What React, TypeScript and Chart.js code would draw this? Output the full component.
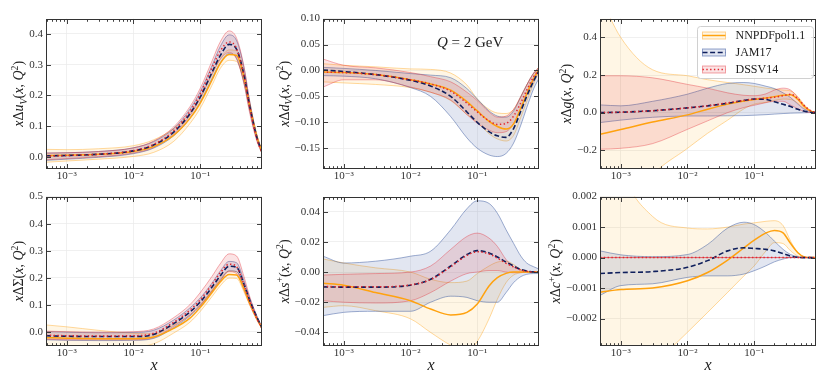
import React, { useEffect, useRef } from 'react';
import { Chart, registerables } from 'chart.js';
Chart.register(...registerables);

const SERIF = '"Liberation Serif", "DejaVu Serif", serif';

// ---------- shared x grid & axis ----------
const xGrid = [4.9e-4, 1e-3, 3e-3, 1e-2, 2e-2, 4e-2, 7e-2, 0.1, 0.15, 0.2, 0.27, 0.35, 0.45, 0.55, 0.7, 0.84];
const xMin = 4.9e-4;
const xMax = 0.84;
const xMajorTicks = [1e-3, 1e-2, 1e-1];
const xMajorLabels = ['10\u207B\u00B3', '10\u207B\u00B2', '10\u207B\u00B9'];

// ---------- x Δu_V ----------
const uvNNPDF = [0.004, 0.005, 0.008, 0.017, 0.033, 0.07, 0.125, 0.175, 0.25, 0.305, 0.333, 0.33, 0.26, 0.165, 0.067, 0.015];
const uvNNPDFlo = [-0.018, -0.014, -0.008, 0.001, 0.014, 0.05, 0.108, 0.158, 0.233, 0.288, 0.314, 0.31, 0.244, 0.154, 0.058, 0.01];
const uvNNPDFhi = [0.024, 0.023, 0.026, 0.036, 0.055, 0.092, 0.142, 0.192, 0.267, 0.32, 0.348, 0.345, 0.273, 0.176, 0.075, 0.02];
const uvJAM = [0.003, 0.004, 0.008, 0.019, 0.038, 0.08, 0.14, 0.195, 0.275, 0.33, 0.366, 0.35, 0.268, 0.165, 0.065, 0.015];
const uvJAMlo = [-0.012, -0.008, -0.002, 0.01, 0.028, 0.068, 0.125, 0.178, 0.255, 0.306, 0.336, 0.32, 0.242, 0.15, 0.057, 0.012];
const uvJAMhi = [0.012, 0.013, 0.017, 0.029, 0.049, 0.092, 0.155, 0.212, 0.297, 0.36, 0.397, 0.378, 0.292, 0.18, 0.072, 0.018];
const uvDSSV = [0.002, 0.004, 0.008, 0.02, 0.04, 0.085, 0.148, 0.205, 0.29, 0.345, 0.374, 0.352, 0.265, 0.16, 0.06, 0.012];
const uvDSSVlo = [-0.01, -0.006, 0.0, 0.012, 0.03, 0.074, 0.134, 0.19, 0.27, 0.318, 0.34, 0.318, 0.238, 0.142, 0.052, 0.01];
const uvDSSVhi = [0.012, 0.013, 0.017, 0.029, 0.051, 0.097, 0.163, 0.223, 0.312, 0.375, 0.41, 0.386, 0.295, 0.18, 0.068, 0.015];
const uvTicks = [0, 0.1, 0.2, 0.3, 0.4];
const uvTickLabels = ['0.0', '0.1', '0.2', '0.3', '0.4'];

// ---------- x Δd_V ----------
const dvNNPDF = [-0.003, -0.004, -0.008, -0.018, -0.026, -0.038, -0.06, -0.078, -0.098, -0.108, -0.113, -0.103, -0.072, -0.045, -0.015, 0.002];
const dvNNPDFlo = [-0.022, -0.024, -0.027, -0.033, -0.042, -0.058, -0.085, -0.1, -0.122, -0.132, -0.136, -0.125, -0.09, -0.06, -0.025, -0.003];
const dvNNPDFhi = [0.013, 0.01, 0.007, 0.003, 0.002, -0.005, -0.028, -0.055, -0.075, -0.082, -0.083, -0.075, -0.05, -0.028, -0.005, 0.006];
const dvJAM = [0.001, -0.002, -0.008, -0.019, -0.03, -0.05, -0.08, -0.1, -0.118, -0.126, -0.129, -0.112, -0.078, -0.05, -0.02, -0.001];
const dvJAMlo = [-0.01, -0.011, -0.016, -0.033, -0.05, -0.089, -0.13, -0.15, -0.163, -0.166, -0.16, -0.14, -0.105, -0.072, -0.035, -0.015];
const dvJAMhi = [0.006, 0.004, 0.0, -0.006, -0.009, -0.014, -0.035, -0.055, -0.078, -0.088, -0.09, -0.078, -0.05, -0.028, -0.005, 0.005];
const dvDSSV = [-0.003, -0.004, -0.008, -0.018, -0.026, -0.04, -0.063, -0.08, -0.097, -0.104, -0.102, -0.088, -0.062, -0.038, -0.012, 0.002];
const dvDSSVlo = [-0.032, -0.018, -0.018, -0.032, -0.042, -0.057, -0.085, -0.102, -0.115, -0.12, -0.118, -0.103, -0.075, -0.048, -0.02, -0.001];
const dvDSSVhi = [0.022, 0.01, 0.005, -0.004, -0.012, -0.022, -0.042, -0.058, -0.08, -0.09, -0.088, -0.075, -0.05, -0.028, -0.005, 0.006];
const dvTicks = [-0.15, -0.1, -0.05, 0, 0.05, 0.1];
const dvTickLabels = ['\u22120.15', '\u22120.10', '\u22120.05', '0.00', '0.05', '0.10'];

// ---------- x Δg ----------
const gNNPDF = [-0.115, -0.09, -0.05, -0.012, 0.018, 0.045, 0.062, 0.07, 0.078, 0.085, 0.092, 0.095, 0.07, 0.035, 0.008, 0.0];
const gNNPDFlo = [-0.75, -0.55, -0.33, -0.19, -0.11, -0.04, 0.02, 0.045, 0.055, 0.065, 0.072, 0.07, 0.05, 0.025, 0.005, 0.0];
const gNNPDFhi = [0.62, 0.4, 0.228, 0.196, 0.175, 0.16, 0.148, 0.14, 0.13, 0.125, 0.12, 0.115, 0.085, 0.045, 0.01, 0.0];
const gJAM = [0.0, 0.002, 0.01, 0.025, 0.036, 0.05, 0.065, 0.072, 0.07, 0.058, 0.044, 0.032, 0.018, 0.009, 0.002, 0.0];
const gJAMlo = [-0.053, -0.04, -0.025, -0.018, -0.018, -0.017, -0.016, -0.014, -0.011, -0.008, -0.005, -0.003, -0.002, -0.001, 0.0, 0.0];
const gJAMhi = [0.041, 0.036, 0.06, 0.098, 0.13, 0.155, 0.16, 0.155, 0.14, 0.128, 0.105, 0.08, 0.045, 0.02, 0.004, 0.0];
const gDSSV = [0.0, 0.002, 0.01, 0.025, 0.036, 0.052, 0.065, 0.072, 0.077, 0.082, 0.09, 0.097, 0.075, 0.04, 0.01, 0.0];
const gDSSVlo = [-0.195, -0.19, -0.165, -0.089, -0.044, 0.0, 0.027, 0.039, 0.053, 0.06, 0.06, 0.04, 0.02, 0.006, 0.0, 0.0];
const gDSSVhi = [0.196, 0.196, 0.185, 0.15, 0.13, 0.105, 0.092, 0.09, 0.1, 0.12, 0.13, 0.12, 0.08, 0.04, 0.01, 0.0];
const gTicks = [-0.2, 0, 0.2, 0.4];
const gTickLabels = ['\u22120.2', '0.0', '0.2', '0.4'];

// ---------- x ΔΣ ----------
const sgNNPDF = [-0.022, -0.024, -0.026, -0.026, -0.02, 0.012, 0.05, 0.09, 0.145, 0.185, 0.212, 0.21, 0.16, 0.105, 0.05, 0.013];
const sgNNPDFlo = [-0.065, -0.065, -0.062, -0.056, -0.045, -0.005, 0.035, 0.075, 0.13, 0.17, 0.198, 0.197, 0.148, 0.098, 0.044, 0.01];
const sgNNPDFhi = [0.025, 0.018, 0.005, -0.006, -0.008, 0.025, 0.062, 0.1, 0.155, 0.197, 0.225, 0.222, 0.17, 0.112, 0.055, 0.016];
const sgJAM = [-0.015, -0.017, -0.018, -0.018, -0.01, 0.03, 0.073, 0.11, 0.165, 0.207, 0.242, 0.238, 0.177, 0.116, 0.055, 0.015];
const sgJAMlo = [-0.03, -0.032, -0.033, -0.032, -0.025, 0.015, 0.058, 0.095, 0.15, 0.19, 0.225, 0.222, 0.165, 0.107, 0.05, 0.012];
const sgJAMhi = [0.0, -0.002, -0.004, -0.003, 0.005, 0.043, 0.088, 0.125, 0.18, 0.225, 0.26, 0.255, 0.19, 0.125, 0.06, 0.018];
const sgDSSV = [-0.013, -0.015, -0.016, -0.015, -0.006, 0.035, 0.08, 0.118, 0.175, 0.218, 0.25, 0.24, 0.175, 0.112, 0.05, 0.012];
const sgDSSVlo = [-0.028, -0.03, -0.03, -0.03, -0.022, 0.02, 0.062, 0.098, 0.15, 0.19, 0.222, 0.215, 0.155, 0.1, 0.045, 0.01];
const sgDSSVhi = [0.002, 0.0, -0.002, 0.0, 0.01, 0.052, 0.1, 0.145, 0.205, 0.252, 0.288, 0.28, 0.205, 0.13, 0.058, 0.015];
const sgTicks = [0, 0.1, 0.2, 0.3, 0.4, 0.5];
const sgTickLabels = ['0.0', '0.1', '0.2', '0.3', '0.4', '0.5'];

// ---------- x Δs+ ----------
const spNNPDF = [-0.0074, -0.0087, -0.0136, -0.019, -0.0245, -0.0284, -0.0267, -0.0212, -0.0092, -0.0037, -0.0009, 0.0, 0.0, 0.0, 0.0, 0.0];
const spNNPDFlo = [-0.0234, -0.0223, -0.0256, -0.031, -0.04, -0.0485, -0.053, -0.046, -0.031, -0.018, -0.007, -0.002, -0.0005, 0.0, 0.0, 0.0];
const spNNPDFhi = [0.0087, 0.006, 0.0028, 0.0, -0.0048, -0.007, -0.006, -0.001, 0.004, 0.0066, 0.0072, 0.005, 0.0017, 0.0005, 0.0, 0.0];
const spJAM = [-0.0098, -0.01, -0.01, -0.0087, -0.0048, 0.004, 0.0116, 0.0142, 0.0127, 0.01, 0.0066, 0.004, 0.0017, 0.0007, 0.0, 0.0];
const spJAMlo = [-0.0289, -0.0267, -0.026, -0.026, -0.02, -0.016, -0.0168, -0.019, -0.02, -0.02, -0.0136, -0.007, -0.003, -0.0015, -0.001, -0.001];
const spJAMhi = [0.0105, 0.006, 0.0072, 0.0105, 0.0138, 0.028, 0.042, 0.0472, 0.0455, 0.039, 0.028, 0.019, 0.0105, 0.006, 0.0035, 0.002];
const spDSSV = [-0.0095, -0.0098, -0.0098, -0.0085, -0.005, 0.0035, 0.011, 0.0135, 0.012, 0.0092, 0.0058, 0.0034, 0.0014, 0.0005, 0.0, 0.0];
const spDSSVlo = [-0.019, -0.02, -0.0205, -0.019, -0.0136, -0.006, -0.001, 0.0, 0.001, 0.001, 0.0, -0.0005, -0.0003, 0.0, 0.0, 0.0];
const spDSSVhi = [-0.002, -0.0015, -0.001, 0.0, 0.004, 0.015, 0.0236, 0.0258, 0.0225, 0.017, 0.0083, 0.0035, 0.0013, 0.0004, 0.0002, 0.0];
const spTicks = [-0.04, -0.02, 0, 0.02, 0.04];
const spTickLabels = ['\u22120.04', '\u22120.02', '0.00', '0.02', '0.04'];

// ---------- x Δc+ ----------
const cpNNPDF = [-0.00114, -0.00105, -0.001, -0.00076, -0.00049, -0.00008, 0.00032, 0.00057, 0.00081, 0.00089, 0.00081, 0.00046, 0.00016, 0.00003, 0.0, 0.0];
const cpNNPDFlo = [-0.006, -0.005, -0.0036, -0.00245, -0.0018, -0.00114, -0.0006, -0.00027, 0.00022, 0.00049, 0.00046, 0.00022, 0.00005, 0.0, 0.0, 0.0];
const cpNNPDFhi = [0.006, 0.003, 0.00135, 0.00097, 0.00094, 0.001, 0.0011, 0.00114, 0.00119, 0.00121, 0.00105, 0.00054, 0.00016, 0.00003, 0.0, 0.0];
const cpJAM = [-0.00052, -0.00049, -0.00046, -0.00032, -0.0001, 0.00022, 0.00032, 0.0003, 0.00027, 0.00022, 0.00013, 0.00005, 0.00001, 0.0, 0.0, 0.0];
const cpJAMlo = [-0.00124, -0.00092, -0.00086, -0.00065, -0.0006, -0.0006, -0.00054, -0.00043, -0.00027, -0.00014, -0.00005, 0.0, 0.0, 0.0, 0.0, 0.0];
const cpJAMhi = [0.00022, 0.00009, 0.00003, 0.0001, 0.00043, 0.00097, 0.00116, 0.00108, 0.00081, 0.00054, 0.00027, 0.0001, 0.00003, 0.0, 0.0, 0.0];
const cpDSSV = [0, 0, 0, 0, 0, 0, 0, 0, 0, 0, 0, 0, 0, 0, 0, 0];
const cpDSSVlo = [0, 0, 0, 0, 0, 0, 0, 0, 0, 0, 0, 0, 0, 0, 0, 0];
const cpDSSVhi = [0, 0, 0, 0, 0, 0, 0, 0, 0, 0, 0, 0, 0, 0, 0, 0];
const cpTicks = [-0.002, -0.001, 0, 0.001, 0.002];
const cpTickLabels = ['\u22120.002', '\u22120.001', '0.000', '0.001', '0.002'];

// ---------- legend ----------
const seriesNames = ['NNPDFpol1.1', 'JAM17', 'DSSV14'];

// ---------- styles ----------
const STY = [
  { line: '#ffa20f', fill: 'rgba(255,165,0,0.10)', edge: 'rgba(255,170,40,0.5)', dash: [] as number[], width: 1.5, order: 30 },
  { line: '#0f1f5c', fill: 'rgba(60,90,160,0.15)', edge: 'rgba(60,90,160,0.55)', dash: [5, 2.6], width: 1.6, order: 20 },
  { line: '#e2262e', fill: 'rgba(225,40,50,0.13)', edge: 'rgba(225,40,50,0.42)', dash: [1.4, 2.4], width: 1.5, order: 10 },
];

type Seg = { t: string; it?: boolean; sub?: boolean; sup?: boolean };
const tail: Seg[] = [{ t: '(' }, { t: 'x', it: true }, { t: ', ' }, { t: 'Q', it: true }, { t: '2', sup: true }, { t: ')' }];
const uvLabel: Seg[] = [{ t: 'x', it: true }, { t: '\u0394' }, { t: 'u', it: true }, { t: 'V', it: true, sub: true }, ...tail];
const dvLabel: Seg[] = [{ t: 'x', it: true }, { t: '\u0394' }, { t: 'd', it: true }, { t: 'V', it: true, sub: true }, ...tail];
const gLabel: Seg[] = [{ t: 'x', it: true }, { t: '\u0394' }, { t: 'g', it: true }, ...tail];
const sgLabel: Seg[] = [{ t: 'x', it: true }, { t: '\u0394\u03A3' }, ...tail];
const spLabel: Seg[] = [{ t: 'x', it: true }, { t: '\u0394' }, { t: 's', it: true }, { t: '+', sup: true }, ...tail];
const cpLabel: Seg[] = [{ t: 'x', it: true }, { t: '\u0394' }, { t: 'c', it: true }, { t: '+', sup: true }, ...tail];

const COLS = [46, 323, 600];
const ROWS = [17, 195];
const PW = 216;
const PH = [152, 151];
const LPADS = [46, 56, 56];
const TPAD = 8;
const RPAD = 4;
const BOT = 40;

type PanelCfg = {
  col: number; row: number; yMin: number; yMax: number; ticks: number[]; tickLabels: string[];
  sets: number[][][]; label: Seg[]; xTitle?: boolean; legend?: boolean; qText?: boolean;
};

const PANELS: PanelCfg[] = [
  { col: 0, row: 0, yMin: -0.04, yMax: 0.45, ticks: uvTicks, tickLabels: uvTickLabels, label: uvLabel,
    sets: [[uvNNPDFlo, uvNNPDF, uvNNPDFhi], [uvJAMlo, uvJAM, uvJAMhi], [uvDSSVlo, uvDSSV, uvDSSVhi]] },
  { col: 1, row: 0, yMin: -0.19, yMax: 0.1, ticks: dvTicks, tickLabels: dvTickLabels, label: dvLabel, qText: true,
    sets: [[dvNNPDFlo, dvNNPDF, dvNNPDFhi], [dvJAMlo, dvJAM, dvJAMhi], [dvDSSVlo, dvDSSV, dvDSSVhi]] },
  { col: 2, row: 0, yMin: -0.3, yMax: 0.5, ticks: gTicks, tickLabels: gTickLabels, label: gLabel, legend: true,
    sets: [[gNNPDFlo, gNNPDF, gNNPDFhi], [gJAMlo, gJAM, gJAMhi], [gDSSVlo, gDSSV, gDSSVhi]] },
  { col: 0, row: 1, yMin: -0.053, yMax: 0.5, ticks: sgTicks, tickLabels: sgTickLabels, label: sgLabel, xTitle: true,
    sets: [[sgNNPDFlo, sgNNPDF, sgNNPDFhi], [sgJAMlo, sgJAM, sgJAMhi], [sgDSSVlo, sgDSSV, sgDSSVhi]] },
  { col: 1, row: 1, yMin: -0.049, yMax: 0.05, ticks: spTicks, tickLabels: spTickLabels, label: spLabel, xTitle: true,
    sets: [[spNNPDFlo, spNNPDF, spNNPDFhi], [spJAMlo, spJAM, spJAMhi], [spDSSVlo, spDSSV, spDSSVhi]] },
  { col: 2, row: 1, yMin: -0.0029, yMax: 0.002, ticks: cpTicks, tickLabels: cpTickLabels, label: cpLabel, xTitle: true,
    sets: [[cpNNPDFlo, cpNNPDF, cpNNPDFhi], [cpJAMlo, cpJAM, cpJAMhi], [cpDSSVlo, cpDSSV, cpDSSVhi]] },
];

const TICK_FONT = 11;
const LABEL_FONT = 14;

function segFont(s: Seg, size: number) {
  const sz = s.sub || s.sup ? size * 0.7 : size;
  return `${s.it ? 'italic ' : ''}${sz}px ${SERIF}`;
}
function richWidth(ctx: CanvasRenderingContext2D, segs: Seg[], size: number) {
  let w = 0;
  for (const s of segs) { ctx.font = segFont(s, size); w += ctx.measureText(s.t).width; }
  return w;
}
function drawRich(ctx: CanvasRenderingContext2D, segs: Seg[], size: number, x: number, y: number) {
  let cx = x;
  for (const s of segs) {
    ctx.font = segFont(s, size);
    const dy = s.sub ? size * 0.22 : s.sup ? -size * 0.4 : 0;
    ctx.fillText(s.t, cx, y + dy);
    cx += ctx.measureText(s.t).width;
  }
}

const decorPlugin = {
  id: 'decor',
  afterDraw(chart: any, _args: any, opts: any) {
    const { ctx, chartArea: a } = chart;
    const xs = chart.scales.x;
    const ys = chart.scales.y;
    const L = Math.round(a.left), R = Math.round(a.right), T = Math.round(a.top), B = Math.round(a.bottom);
    ctx.save();
    ctx.strokeStyle = '#2b2b2b';
    ctx.lineWidth = 0.9;
    // x ticks (major + minor), inward on top and bottom
    for (let k = -4; k <= 0; k++) {
      for (let m = 1; m <= 9; m++) {
        const v = m * Math.pow(10, k);
        if (v < xMin || v > xMax) continue;
        const px = Math.round(xs.getPixelForValue(v)) + 0.5;
        const len = m === 1 ? 5 : 2.8;
        ctx.beginPath();
        ctx.moveTo(px, B); ctx.lineTo(px, B - len);
        ctx.moveTo(px, T); ctx.lineTo(px, T + len);
        ctx.stroke();
      }
    }
    // y ticks, inward on left and right
    for (const v of opts.ticks as number[]) {
      const py = Math.round(ys.getPixelForValue(v)) + 0.5;
      ctx.beginPath();
      ctx.moveTo(L, py); ctx.lineTo(L + 5, py);
      ctx.moveTo(R, py); ctx.lineTo(R - 5, py);
      ctx.stroke();
    }
    // frame
    ctx.lineWidth = 1;
    ctx.strokeStyle = '#333333';
    ctx.strokeRect(L + 0.5, T + 0.5, R - L - 1, B - T - 1);

    ctx.fillStyle = '#222222';
    ctx.textBaseline = 'alphabetic';
    // y label
    ctx.font = `${TICK_FONT}px ${SERIF}`;
    let maxW = 0;
    for (const s of opts.tickLabels as string[]) maxW = Math.max(maxW, ctx.measureText(s).width);
    const labelRight = L - 3 - maxW - 2;
    const baseX = labelRight - LABEL_FONT * 0.27;
    const w = richWidth(ctx, opts.label, LABEL_FONT);
    ctx.save();
    ctx.translate(baseX, (a.top + a.bottom) / 2);
    ctx.rotate(-Math.PI / 2);
    drawRich(ctx, opts.label, LABEL_FONT, -w / 2, 0);
    ctx.restore();

    if (opts.xTitle) {
      ctx.font = `italic 16px ${SERIF}`;
      ctx.textAlign = 'center';
      ctx.textBaseline = 'middle';
      ctx.fillText('x', (a.left + a.right) / 2, B + 20);
      ctx.textAlign = 'left';
      ctx.textBaseline = 'alphabetic';
    }
    if (opts.qText) {
      const segs: Seg[] = [{ t: 'Q', it: true }, { t: ' = 2 GeV' }];
      drawRich(ctx, segs, 15, L + 114, T + 28);
    }
    if (opts.legend) {
      const bx = R - 118.5, by = T + 7.5, bw = 116, bh = 52;
      ctx.beginPath();
      const r = 3;
      ctx.moveTo(bx + r, by);
      ctx.arcTo(bx + bw, by, bx + bw, by + bh, r);
      ctx.arcTo(bx + bw, by + bh, bx, by + bh, r);
      ctx.arcTo(bx, by + bh, bx, by, r);
      ctx.arcTo(bx, by, bx + bw, by, r);
      ctx.closePath();
      ctx.fillStyle = 'rgba(255,255,255,0.85)';
      ctx.fill();
      ctx.strokeStyle = '#d0d0d0';
      ctx.lineWidth = 1;
      ctx.stroke();
      const rows = [by + 8.5, by + 25.5, by + 42];
      seriesNames.forEach((name, i) => {
        const st = STY[i];
        const cy = Math.round(rows[i]) + 0.5;
        const hx = bx + 5, hw = 23;
        ctx.fillStyle = st.fill;
        ctx.fillRect(hx, cy - 3.5, hw, 7);
        ctx.strokeStyle = st.edge;
        ctx.lineWidth = 1;
        ctx.strokeRect(hx, cy - 3.5, hw, 7);
        ctx.strokeStyle = st.line;
        ctx.lineWidth = st.width;
        ctx.setLineDash(st.dash);
        ctx.beginPath();
        ctx.moveTo(hx, cy); ctx.lineTo(hx + hw, cy);
        ctx.stroke();
        ctx.setLineDash([]);
        ctx.fillStyle = '#222222';
        ctx.font = `12px ${SERIF}`;
        ctx.textBaseline = 'middle';
        ctx.fillText(name, bx + 38, cy);
        ctx.textBaseline = 'alphabetic';
      });
    }
    ctx.restore();
  },
};

function Panel({ cfg }: { cfg: PanelCfg }) {
  const ref = useRef<HTMLCanvasElement>(null);
  const lpad = LPADS[cfg.col];
  const ph = PH[cfg.row];
  const cw = lpad + PW + RPAD;
  const ch = TPAD + ph + BOT;
  const left = COLS[cfg.col] - lpad;
  const top = ROWS[cfg.row] - TPAD;

  useEffect(() => {
    const pts = (arr: number[]) => arr.map((y, i) => ({ x: xGrid[i], y }));
    const datasets: any[] = [];
    cfg.sets.forEach((trip, i) => {
      const st = STY[i];
      const [lo, c, hi] = trip;
      const common = { pointRadius: 0, cubicInterpolationMode: 'monotone', pointHoverRadius: 0 };
      datasets.push({ ...common, data: pts(lo), borderColor: st.edge, borderWidth: 0.9, fill: false, order: st.order + 100 });
      datasets.push({ ...common, data: pts(hi), borderColor: st.edge, borderWidth: 0.9, fill: '-1', backgroundColor: st.fill, order: st.order + 100 });
      datasets.push({ ...common, data: pts(c), borderColor: st.line, borderWidth: st.width, borderDash: st.dash, fill: false, order: st.order });
    });
    const tickFont = { family: SERIF, size: TICK_FONT };
    const chart = new Chart(ref.current as HTMLCanvasElement, {
      type: 'line',
      data: { datasets },
      options: {
        responsive: false,
        animation: false,
        devicePixelRatio: 1,
        events: [],
        layout: { padding: { left: 0, right: RPAD, top: TPAD, bottom: 0 } },
        plugins: {
          legend: { display: false },
          tooltip: { enabled: false },
          decor: { ticks: cfg.ticks, tickLabels: cfg.tickLabels, label: cfg.label, xTitle: cfg.xTitle, legend: cfg.legend, qText: cfg.qText },
        } as any,
        scales: {
          x: {
            type: 'logarithmic', min: xMin, max: xMax,
            afterFit: (s: any) => { s.height = BOT; },
            afterBuildTicks: (s: any) => { s.ticks = xMajorTicks.map((v) => ({ value: v })); },
            ticks: { callback: (_v: any, i: number) => xMajorLabels[i], font: tickFont, color: '#333333', padding: 1, autoSkip: false, maxRotation: 0, minRotation: 0 },
            grid: { color: '#ececec', lineWidth: 0.8, drawTicks: false },
            border: { display: false },
          },
          y: {
            type: 'linear', min: cfg.yMin, max: cfg.yMax,
            afterFit: (s: any) => { s.width = lpad; },
            afterBuildTicks: (s: any) => { s.ticks = cfg.ticks.map((v) => ({ value: v })); },
            ticks: { callback: (_v: any, i: number) => cfg.tickLabels[i], font: tickFont, color: '#333333', padding: 3, autoSkip: false },
            grid: { color: '#ececec', lineWidth: 0.8, drawTicks: false },
            border: { display: false },
          },
        } as any,
      },
      plugins: [decorPlugin as any],
    });
    return () => chart.destroy();
  }, []);

  return (
    <canvas
      ref={ref}
      width={cw}
      height={ch}
      style={{ position: 'absolute', left, top, width: cw, height: ch }}
    />
  );
}

export default function App() {
  return (
    <div style={{ position: 'absolute', left: 0, top: 0, width: 830, height: 388, background: '#ffffff', overflow: 'hidden' }}>
      {PANELS.map((p, i) => (
        <Panel key={i} cfg={p} />
      ))}
    </div>
  );
}
